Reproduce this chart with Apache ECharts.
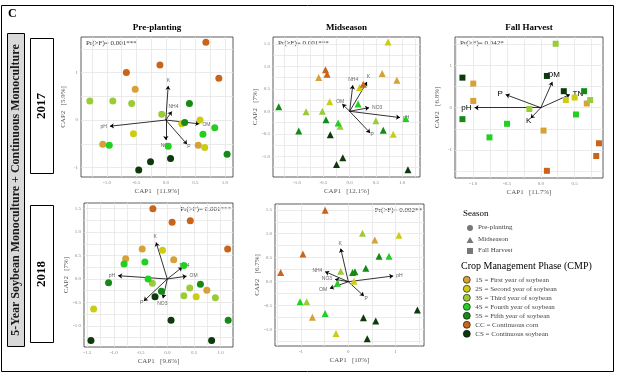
<!DOCTYPE html>
<html>
<head>
<meta charset="utf-8">
<script src="https://cdn.jsdelivr.net/npm/echarts@6/dist/echarts.min.js"></script>
<style>
html, body { margin: 0; padding: 0; background: #fff; }
#chart { width: 624px; height: 376px; }
</style>
</head>
<body>
<div id="chart"></div>
<script>
// crop management phases
const groups = ['1S', '2S', '3S', '4S', '5S', 'CC', 'CS']
const groupNames = [
  '1S = First year of soybean',
  '2S = Second year of soybean',
  '3S = Third year of soybean',
  '4S = Fourth year of soybean',
  '5S = Fifth year of soybean',
  'CC = Continuous corn',
  'CS = Continuous soybean',
]
const groupColors = ['#D6A137', '#CCCC14', '#9CCB3A', '#22CF22', '#168A16', '#C9651A', '#0C3A0C']

// site scores [CAP1, CAP2, phase]
const pre2017 = [
  [0.68, 1.64, 'CC'], [-0.10, 1.16, 'CC'], [-0.67, 1.0, 'CC'], [0.90, 0.88, 'CC'],
  [-0.52, 0.65, '1S'], [-1.07, -0.51, '1S'], [0.55, -0.53, '1S'],
  [-1.29, 0.40, '3S'], [-0.90, 0.40, '3S'], [-0.58, 0.35, '3S'], [-0.07, 0.12, '3S'],
  [-0.96, -0.53, '4S'], [0.04, -0.55, '4S'], [0.63, -0.30, '4S'], [0.83, -0.16, '4S'],
  [0.40, 0.35, '5S'], [0.32, -0.05, '5S'], [1.04, -0.72, '5S'],
  [-0.55, -0.29, '2S'], [0.58, 0.0, '2S'], [0.27, -0.08, '2S'], [0.66, -0.58, '2S'],
  [-0.46, -1.05, 'CS'], [-0.26, -0.88, 'CS'], [0.08, -0.81, 'CS'],
]
const mid2017 = [
  [-0.46, 0.92, 'CC'], [-0.43, 0.82, 'CC'], [0.26, 0.60, 'CC'],
  [-0.59, 0.75, '1S'], [0.62, 0.84, '1S'], [0.90, 0.69, '1S'],
  [-0.83, -0.01, '3S'], [-0.52, 0.0, '3S'], [-0.18, -0.33, '3S'], [0.50, -0.21, '3S'],
  [0.16, 0.16, '4S'], [-0.22, -0.26, '4S'], [1.07, -0.16, '4S'],
  [-1.35, 0.10, '5S'], [-0.97, -0.44, '5S'], [-0.45, -0.19, '5S'], [0.64, -0.42, '5S'],
  [0.73, 1.54, '2S'], [0.19, 0.53, '2S'], [-0.38, 0.21, '2S'], [0.83, -0.51, '2S'],
  [-0.37, -0.52, 'CS'], [-0.13, -1.03, 'CS'], [-0.25, -1.18, 'CS'], [1.11, -1.30, 'CS'],
]
const fall2017 = [
  [-1.16, 0.71, 'CS'], [0.09, 0.75, 'CS'], [0.34, 0.39, 'CS'],
  [-1.16, -0.27, '5S'], [0.64, 0.39, '5S'],
  [-0.50, -0.38, '4S'], [-0.76, -0.70, '4S'], [0.52, -0.16, '4S'],
  [0.22, 1.51, '3S'], [-0.17, -0.03, '3S'], [0.73, 0.18, '3S'],
  [0.37, 0.18, '2S'], [0.50, 0.24, '2S'],
  [-1.0, 0.57, '1S'], [-1.0, 0.16, '1S'], [0.68, 0.10, '1S'], [0.04, -0.54, '1S'],
  [0.86, -0.84, 'CC'], [0.82, -1.14, 'CC'], [0.09, -1.49, 'CC'],
]
const pre2018 = [
  [-0.27, 1.50, 'CC'], [0.09, 1.21, 'CC'], [0.43, 1.24, 'CC'], [1.13, 0.64, 'CC'],
  [-0.47, 0.64, '1S'], [-0.78, 0.43, '1S'], [0.12, 0.41, '1S'], [0.74, -0.24, '1S'],
  [-0.09, 0.61, '2S'], [-1.38, -0.64, '2S'], [0.54, -0.38, '2S'],
  [-0.28, -0.09, '3S'], [0.42, -0.19, '3S'], [0.31, -0.36, '3S'], [0.90, -0.40, '3S'],
  [-0.81, 0.32, '4S'], [-0.42, 0.36, '4S'], [-0.36, 0.0, '4S'], [0.31, 0.29, '4S'],
  [-1.10, -0.08, '5S'], [-0.11, -0.26, '5S'], [0.62, -0.11, '5S'], [1.14, -0.88, '5S'],
  [-1.43, -1.31, 'CS'], [-0.23, -0.38, 'CS'], [0.07, -0.88, 'CS'], [0.83, -1.31, 'CS'],
]
const mid2018 = [
  [-0.49, 1.49, 'CC'], [-0.96, 0.58, 'CC'], [-1.43, 0.19, 'CC'],
  [0.56, 0.87, '1S'], [-0.76, -0.74, '1S'],
  [1.07, 0.97, '2S'], [0.12, 0.01, '2S'], [-0.26, -1.08, '2S'],
  [0.30, 1.01, '3S'], [-0.16, 0.22, '3S'], [-0.88, -0.42, '3S'],
  [0.86, 0.53, '4S'], [-0.23, -0.03, '4S'], [-1.02, -0.42, '4S'], [-0.49, -0.66, '4S'],
  [0.65, 0.53, '5S'], [0.37, 0.28, '5S'], [0.14, 0.21, '5S'], [0.09, 0.19, '5S'],
  [0.32, -0.75, 'CS'], [0.58, -0.82, 'CS'], [0.40, -1.19, 'CS'], [1.46, -0.59, 'CS'],
]

// soil property vectors [name, CAP1, CAP2]
const pre2017Vectors = [['K', 0.04, 0.72], ['NH4', 0.10, 0.18], ['OM', 0.57, -0.08], ['pH', -0.95, -0.13], ['NO3', 0, -0.42], ['P', 0.36, -0.51]]
const mid2017Vectors = [['NH4', 0.06, 0.58], ['K', 0.33, 0.65], ['OM', -0.14, 0.16], ['NO3', 0.37, 0.08], ['pH', 0.96, -0.14], ['P', 0.39, -0.48]]
const fall2017Vectors = [['OM', 0.17, 0.61], ['TN', 0.43, 0.31], ['P', -0.52, 0.31], ['pH', -0.98, 0.0], ['K', -0.15, -0.25]]
const pre2018Vectors = [['K', -0.21, 0.78], ['pH', -0.92, 0.07], ['NH4', 0.28, 0.25], ['OM', 0.36, 0.06], ['NO3', -0.08, -0.41], ['P', -0.44, -0.47]]
const mid2018Vectors = [['K', -0.16, 0.69], ['NH4', -0.49, 0.21], ['NO3', -0.28, 0.05], ['OM', -0.39, -0.14], ['pH', 0.95, 0.12], ['P', 0.33, -0.30]]

// tick labels
const pre2017XTicks = [-1.0, -0.5, 0, 0.5, 1.0]
const pre2017YTicks = [-1, 0, 1]
const mid2017XTicks = [-1.0, -0.5, 0, 0.5, 1.0]
const mid2017YTicks = [-1.0, -0.5, 0, 0.5, 1.0, 1.5]
const fall2017XTicks = [-1.0, -0.5, 0, 0.5]
const fall2017YTicks = [-1, 0, 1]
const pre2018XTicks = [-1.5, -1.0, -0.5, 0, 0.5, 1.0]
const pre2018YTicks = [-1.0, -0.5, 0, 0.5, 1.0, 1.5]
const mid2018XTicks = [-1, 0, 1]
const mid2018YTicks = [-1.0, -0.5, 0, 0.5, 1.0, 1.5]

const panels = [
  { points: pre2017, vectors: pre2017Vectors, xTicks: pre2017XTicks, yTicks: pre2017YTicks, xDec: 1, yDec: 0,
    xName: 'CAP1   [11.9%]', yName: 'CAP2   [5.9%]', pr: 'Pr(>F)= 0.001***', title: 'Pre-planting', symbol: 'circle', size: 7,
    grid: { left: 81, top: 37, width: 152, height: 140 }, x: [-1.44, 1.14], y: [-1.2, 1.75] },
  { points: mid2017, vectors: mid2017Vectors, xTicks: mid2017XTicks, yTicks: mid2017YTicks, xDec: 1, yDec: 1,
    xName: 'CAP1   [12.1%]', yName: 'CAP2   [7%]', pr: 'Pr(>F)= 0.001***', title: 'Midseason', symbol: 'triangle', size: 7,
    grid: { left: 273, top: 37, width: 147, height: 140 }, x: [-1.46, 1.34], y: [-1.46, 1.65] },
  { points: fall2017, vectors: fall2017Vectors, xTicks: fall2017XTicks, yTicks: fall2017YTicks, xDec: 1, yDec: 0,
    xName: 'CAP1   [11.7%]', yName: 'CAP2   [6.8%]', pr: 'Pr(>F)= 0.042*', title: 'Fall Harvest', symbol: 'rect', size: 6,
    grid: { left: 455, top: 37, width: 148, height: 141 }, x: [-1.27, 0.92], y: [-1.66, 1.67] },
  { points: pre2018, vectors: pre2018Vectors, xTicks: pre2018XTicks, yTicks: pre2018YTicks, xDec: 1, yDec: 1,
    xName: 'CAP1   [9.6%]', yName: 'CAP2   [7%]', pr: 'Pr(>F)= 0.001***', symbol: 'circle', size: 7,
    grid: { left: 84, top: 203, width: 149, height: 144 }, x: [-1.56, 1.23], y: [-1.45, 1.62] },
  { points: mid2018, vectors: mid2018Vectors, xTicks: mid2018XTicks, yTicks: mid2018YTicks, xDec: 0, yDec: 1,
    xName: 'CAP1   [10%]', yName: 'CAP2   [6.7%]', pr: 'Pr(>F)= 0.002**', symbol: 'triangle', size: 7,
    grid: { left: 275, top: 204, width: 149, height: 142 }, x: [-1.55, 1.60], y: [-1.34, 1.62] },
]

const serif = 'Liberation Serif'

// grid lines at half the label spacing, across the whole range
function gridLines(ticks, range) {
  const step = (ticks[1] - ticks[0]) / 2
  const out = []
  for (let v = ticks[0] - step * 10; v <= range[1]; v += step) {
    const r = Math.round(v * 1000) / 1000
    if (r >= range[0] && r <= range[1]) out.push(r)
  }
  return out
}

function axis(p, dir, i) {
  const ticks = dir === 'x' ? p.xTicks : p.yTicks
  const range = dir === 'x' ? p.x : p.y
  const dec = dir === 'x' ? p.xDec : p.yDec
  return {
    type: 'value',
    gridIndex: i,
    min: range[0],
    max: range[1],
    name: dir === 'x' ? p.xName : p.yName,
    nameLocation: 'middle',
    nameGap: dir === 'x' ? 11 : 14,
    nameTextStyle: { fontFamily: serif, fontSize: 7, color: '#555' },
    axisLine: { show: false },
    axisTick: { show: false, customValues: gridLines(ticks, range) },
    axisLabel: {
      customValues: ticks,
      fontFamily: serif,
      fontSize: 5,
      color: '#888',
      margin: 3,
      formatter: v => v.toFixed(dec),
    },
    splitLine: { show: true, lineStyle: { color: '#e6e6e6', width: 0.8 } },
  }
}

const series = []
panels.forEach((p, i) => {
  series.push({
    type: 'lines',
    coordinateSystem: 'cartesian2d',
    xAxisIndex: i,
    yAxisIndex: i,
    silent: true,
    z: 2,
    symbol: ['none', 'arrow'],
    symbolSize: 4,
    lineStyle: { color: '#000', width: 0.8, opacity: 1 },
    label: {
      show: true,
      position: 'end',
      distance: 3,
      formatter: '{b}',
      fontFamily: 'Liberation Sans',
      fontSize: i === 2 ? 8 : 5,
      color: i === 2 ? '#000' : '#666',
    },
    data: p.vectors.map(v => ({ name: v[0], coords: [[0, 0], [v[1], v[2]]] })),
  })
  groups.forEach((g, gi) => {
    series.push({
      type: 'scatter',
      name: groupNames[gi],
      xAxisIndex: i,
      yAxisIndex: i,
      symbol: p.symbol,
      symbolSize: p.size,
      z: 3,
      itemStyle: { color: groupColors[gi], opacity: 1 },
      data: p.points.filter(r => r[2] === g).map(r => [r[0], r[1]]),
    })
  })
})

const graphic = [
  { type: 'rect', shape: { x: 1.5, y: 5.5, width: 612, height: 366 }, style: { fill: 'none', stroke: '#000', lineWidth: 1 }, silent: true },
  { type: 'text', x: 8, y: 8, style: { text: 'C', fontFamily: serif, fontWeight: 'bold', fontSize: 12, fill: '#000' } },
  { type: 'rect', shape: { x: 7.5, y: 33.5, width: 17, height: 313 }, style: { fill: '#d9d9d9', stroke: '#000', lineWidth: 1 } },
  { type: 'text', x: 16, y: 190, rotation: Math.PI / 2,
    style: { text: '5-Year Soybean Monoculture + Continuous Monoculture', fontFamily: serif, fontWeight: 'bold', fontSize: 12, fill: '#1a1a1a', align: 'center', verticalAlign: 'middle' } },
  { type: 'rect', shape: { x: 30.5, y: 38.5, width: 23, height: 135 }, style: { fill: '#fff', stroke: '#000', lineWidth: 1 } },
  { type: 'text', x: 42, y: 106, rotation: Math.PI / 2,
    style: { text: '2017', fontFamily: serif, fontWeight: 'bold', fontSize: 13, fill: '#000', align: 'center', verticalAlign: 'middle' } },
  { type: 'rect', shape: { x: 30.5, y: 205.5, width: 23, height: 137 }, style: { fill: '#fff', stroke: '#000', lineWidth: 1 } },
  { type: 'text', x: 42, y: 274, rotation: Math.PI / 2,
    style: { text: '2018', fontFamily: serif, fontWeight: 'bold', fontSize: 13, fill: '#000', align: 'center', verticalAlign: 'middle' } },
  // season legend
  { type: 'text', x: 463, y: 209, style: { text: 'Season', fontFamily: serif, fontSize: 9, fill: '#000' } },
  { type: 'circle', shape: { cx: 470, cy: 228, r: 3 }, style: { fill: '#777' } },
  { type: 'polygon', shape: { points: [[470, 237], [466.5, 243], [473.5, 243]] }, style: { fill: '#777' } },
  { type: 'rect', shape: { x: 467, y: 248, width: 6, height: 6 }, style: { fill: '#777' } },
  { type: 'text', x: 478, y: 224, style: { text: 'Pre-planting', fontFamily: serif, fontSize: 7, fill: '#444' } },
  { type: 'text', x: 478, y: 236, style: { text: 'Midseason', fontFamily: serif, fontSize: 7, fill: '#444' } },
  { type: 'text', x: 478, y: 247, style: { text: 'Fall Harvest', fontFamily: serif, fontSize: 7, fill: '#444' } },
  { type: 'text', x: 461, y: 261, style: { text: 'Crop Management Phase (CMP)', fontFamily: serif, fontSize: 10, fill: '#000' } },
]

panels.forEach(p => {
  const g = p.grid
  if (p.title) {
    graphic.push({ type: 'text', x: g.left + g.width / 2, y: 23,
      style: { text: p.title, fontFamily: serif, fontWeight: 'bold', fontSize: 9, fill: '#000', align: 'center' } })
  }
  const right = p.grid.top > 100
  graphic.push({ type: 'text', x: right ? g.left + g.width - 2 : g.left + 5, y: g.top + 3,
    style: { text: p.pr, fontFamily: serif, fontSize: 7, fill: '#333', align: right ? 'right' : 'left' } })
})

const chart = echarts.init(document.getElementById('chart'), null, { renderer: 'canvas' })
chart.setOption({
  animation: false,
  backgroundColor: '#fff',
  grid: panels.map(p => Object.assign({ show: true, borderColor: '#333', borderWidth: 0.8, backgroundColor: '#fff' }, p.grid)),
  xAxis: panels.map((p, i) => axis(p, 'x', i)),
  yAxis: panels.map((p, i) => axis(p, 'y', i)),
  legend: {
    left: 463,
    top: 276,
    padding: 0,
    orient: 'vertical',
    icon: 'circle',
    itemWidth: 7,
    itemHeight: 7,
    itemGap: 1.4,
    selectedMode: false,
    itemStyle: { borderColor: '#000', borderWidth: 0.6 },
    textStyle: { fontFamily: serif, fontSize: 7, color: '#444' },
    data: groupNames,
  },
  graphic,
  series,
})
</script>
</body>
</html>
